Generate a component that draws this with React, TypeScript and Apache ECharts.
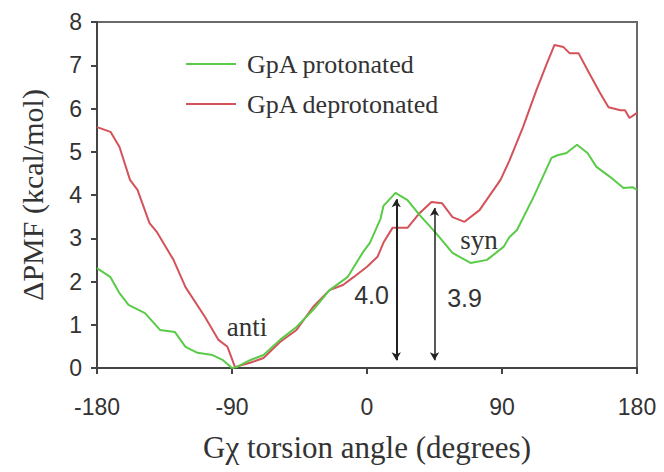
import React, { useEffect, useRef } from "react";
import * as echarts from "echarts";

const protonatedAngles = [-180, -171, -165, -159, -148, -138, -128, -121, -113, -103, -96, -90, -87, -78, -69, -58, -47, -36, -25, -13, -3, 2, 9, 11, 19, 27, 35, 46, 57, 69, 80, 91, 95, 100, 111, 123, 127, 133, 140, 147, 153, 162, 171, 177, 180];
const protonatedPMF = [2.31, 2.1, 1.73, 1.46, 1.27, 0.88, 0.83, 0.49, 0.35, 0.3, 0.18, 0.0, 0.02, 0.18, 0.3, 0.65, 0.95, 1.34, 1.8, 2.1, 2.66, 2.9, 3.45, 3.75, 4.05, 3.88, 3.54, 3.12, 2.66, 2.43, 2.5, 2.8, 3.03, 3.19, 3.95, 4.86, 4.92, 4.97, 5.16, 4.97, 4.65, 4.42, 4.16, 4.18, 4.12];

const deprotonatedAngles = [-180, -171, -165, -158, -153, -145, -140, -129, -121, -108, -99, -93, -88, -78, -69, -58, -47, -36, -25, -16, -9, 0, 7, 11, 17, 27, 35, 43, 50, 57, 65, 75, 89, 95, 104, 113, 120, 125, 131, 135, 141, 147, 155, 161, 169, 172, 175, 180];
const deprotonatedPMF = [5.57, 5.46, 5.11, 4.35, 4.12, 3.35, 3.14, 2.5, 1.87, 1.18, 0.65, 0.49, 0.02, 0.12, 0.23, 0.6, 0.88, 1.41, 1.8, 1.92, 2.1, 2.34, 2.57, 2.9, 3.24, 3.24, 3.58, 3.84, 3.81, 3.49, 3.38, 3.65, 4.35, 4.8, 5.57, 6.43, 7.05, 7.47, 7.42, 7.28, 7.28, 6.89, 6.38, 6.03, 5.96, 5.96, 5.78, 5.9];

const seriesNames = ["GpA protonated", "GpA deprotonated"];
const xTicks = [-180, -90, 0, 90, 180];
const yTicks = [0, 1, 2, 3, 4, 5, 6, 7, 8];

const barrierAngles = [19.5, 45];
const barrierBottoms = [0.18, 0.18];
const barrierTops = [3.9, 3.7];
const barrierLabels = ["4.0", "3.9"];
const barrierLabelAngles = [3, 65];
const barrierLabelValues = [1.69, 1.62];

const stateLabels = ["anti", "syn"];
const stateAngles = [-80, 74.7];
const stateValues = [0.95, 2.96];

const GREEN = "#5acb48";
const RED = "#d4525a";
const SERIF = "'Liberation Serif', 'Times New Roman', serif";
const SANS = "'Liberation Sans', Arial, sans-serif";

export default function App() {
  const ref = useRef<HTMLDivElement>(null);
  useEffect(() => {
    if (!ref.current) return;
    const chart = echarts.init(ref.current, undefined, { renderer: "svg" });
    const pData = protonatedAngles.map((a, i) => [a, protonatedPMF[i]]);
    const dData = deprotonatedAngles.map((a, i) => [a, deprotonatedPMF[i]]);
    chart.setOption({
      animation: false,
      backgroundColor: "#ffffff",
      grid: {
        left: 97,
        right: 27,
        top: 22,
        bottom: 104,
        show: true,
        borderColor: "#6a6a6a",
        borderWidth: 2,
      },
      legend: {
        orient: "vertical",
        left: 181,
        top: 46,
        icon: "rect",
        itemWidth: 50,
        itemHeight: 2,
        itemGap: 14,
        data: seriesNames,
        textStyle: {
          fontFamily: SERIF,
          fontSize: 26,
          color: "#333",
          padding: [0, 0, 0, 6],
        },
      },
      xAxis: {
        type: "value",
        min: xTicks[0],
        max: xTicks[xTicks.length - 1],
        interval: 90,
        name: "Gχ torsion angle (degrees)",
        nameLocation: "middle",
        nameGap: 64,
        nameTextStyle: { fontFamily: SERIF, fontSize: 31, color: "#333" },
        axisLine: { show: true, onZero: false, lineStyle: { color: "#444", width: 2 } },
        axisTick: { show: true, inside: false, length: 6, lineStyle: { color: "#444", width: 2 } },
        axisLabel: { fontFamily: SANS, fontSize: 23, color: "#333", margin: 27 },
        splitLine: { show: false },
      },
      yAxis: {
        type: "value",
        min: yTicks[0],
        max: yTicks[yTicks.length - 1],
        interval: 1,
        name: "ΔPMF (kcal/mol)",
        nameLocation: "middle",
        nameGap: 50,
        nameTextStyle: { fontFamily: SERIF, fontSize: 30, color: "#333" },
        axisLine: { show: true, onZero: false, lineStyle: { color: "#444", width: 2 } },
        axisTick: { show: true, inside: false, length: 6, lineStyle: { color: "#444", width: 2 } },
        axisLabel: { fontFamily: SANS, fontSize: 23, color: "#333", margin: 15 },
        splitLine: { show: false },
      },
      series: [
        {
          name: seriesNames[0],
          type: "line",
          data: pData,
          symbol: "none",
          lineStyle: { color: GREEN, width: 2 },
          itemStyle: { color: GREEN },
          z: 3,
        },
        {
          name: seriesNames[1],
          type: "line",
          data: dData,
          symbol: "none",
          lineStyle: { color: RED, width: 2 },
          itemStyle: { color: RED },
          z: 2,
          markLine: {
            silent: true,
            symbol: ["arrow", "arrow"],
            symbolSize: [7, 8],
            label: { show: false },
            lineStyle: { color: "#222", type: "solid", width: 2 },
            data: barrierAngles.map((a, i) => [
              { coord: [a, barrierBottoms[i]], lineStyle: { width: i === 0 ? 2 : 1.5 } },
              { coord: [a, barrierTops[i]] },
            ]),
          },
          markPoint: {
            silent: true,
            symbol: "circle",
            symbolSize: 1,
            itemStyle: { color: "rgba(0,0,0,0)" },
            data: [
              ...barrierLabels.map((t, i) => ({
                coord: [barrierLabelAngles[i], barrierLabelValues[i]],
                name: t,
                label: { fontFamily: SANS, fontSize: 25 },
              })),
              ...stateLabels.map((t, i) => ({
                coord: [stateAngles[i], stateValues[i]],
                name: t,
                label: { fontFamily: SERIF, fontSize: 27 },
              })),
            ],
            label: {
              show: true,
              position: "inside",
              formatter: "{b}",
              color: "#333",
            },
          },
        },
      ],
    });
    return () => chart.dispose();
  }, []);
  return (
    <div
      ref={ref}
      style={{ position: "fixed", left: 0, top: 0, width: 664, height: 472 }}
    />
  );
}
